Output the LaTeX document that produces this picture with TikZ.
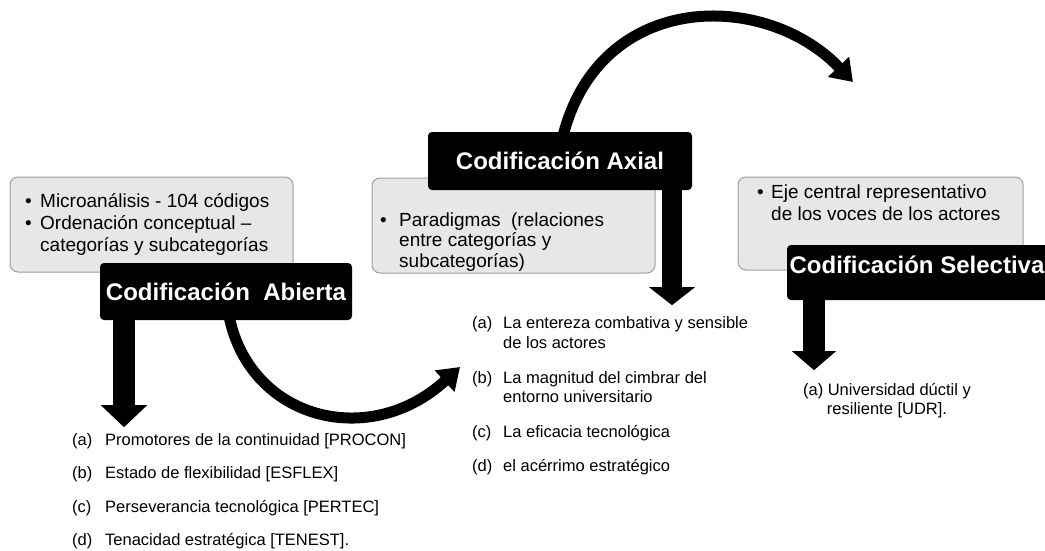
\documentclass[tikz,border=0pt]{standalone}
\usepackage{fontspec}
\setmainfont{Liberation Sans}
\usetikzlibrary{arrows.meta}

\definecolor{boxfill}{RGB}{231,231,231}
\definecolor{boxline}{RGB}{150,160,172}

\begin{document}
\begin{tikzpicture}[x=1pt,y=-1pt,
  notebox/.style={draw=boxline, line width=1pt, fill=boxfill, rounded corners=8pt, inner sep=0pt},
  titlebox/.style={fill=black, rounded corners=4pt, inner sep=0pt},
  titletext/.style={text=white, font=\fontsize{24}{28}\selectfont\bfseries, inner sep=0pt},
  boxtext/.style={font=\fontsize{19}{22}\selectfont, anchor=base west, inner sep=0pt},
  listtext/.style={font=\fontsize{16.5}{20}\selectfont, anchor=base west, inner sep=0pt},
  centertext/.style={font=\fontsize{16.5}{20}\selectfont, anchor=base, inner sep=0pt},
  blockarrow/.style={line width=22pt},
  bentarrow/.style={line width=11pt, -{Triangle[width=28pt,length=21pt]}}
]
\useasboundingbox (0,0) rectangle (1045,551);

% grey note boxes
\node[notebox, minimum width=283pt, minimum height=95pt] (note1) at (151.5,224.5) {};
\node[notebox, minimum width=283pt, minimum height=95pt] (note2) at (513.5,225.5) {};
\node[notebox, minimum width=285pt, minimum height=93pt] (note3) at (880.5,223.5) {};

% bullet texts inside the note boxes
\node[boxtext] (b1a) at (25,207) {\textbullet};
\node[boxtext] (t1a) at (40,207) {Microanálisis - 104 códigos};
\node[boxtext] (b1b) at (25,229) {\textbullet};
\node[boxtext] (t1b) at (40,229) {Ordenación conceptual –};
\node[boxtext] (t1c) at (40,251) {categorías y subcategorías};

\node[boxtext] (b2a) at (380,226) {\textbullet};
\node[boxtext] (t2a) at (399,226) {Paradigmas\ \ (relaciones};
\node[boxtext] (t2b) at (399,246.5) {entre categorías y};
\node[boxtext] (t2c) at (399,267) {subcategorías)};

\node[boxtext] (b3a) at (757,198) {\textbullet};
\node[boxtext] (t3a) at (771,198) {Eje central representativo};
\node[boxtext] (t3b) at (771,220) {de los voces de los actores};

% curved arrows between the stages
\draw[bentarrow] (229,316) .. controls (250,420) and (370,450) .. (460,367);
\draw[bentarrow] (563,136) .. controls (600,-10) and (765,-10) .. (853,82);

% stage titles
\node[titlebox, minimum width=252pt, minimum height=57pt] (abierta) at (226,291.5) {};
\node[titletext] (abiertaT) at (226,291.5) {Codificación\ \ Abierta};
\node[titlebox, minimum width=264pt, minimum height=58pt] (axial) at (560,161) {};
\node[titletext] (axialT) at (560,161) {Codificación Axial};
\node[titlebox, minimum width=264pt, minimum height=55pt] (selectiva) at (919,272.5) {};
\node[titletext] (selectivaT) at (917,264.5) {Codificación Selectiva};

% block arrows down to the result lists
\draw[blockarrow, -{Triangle[width=45pt,length=22pt]}] ([xshift=-102pt]abierta.south) -- ++(0,107);
\draw[blockarrow, line width=20pt, -{Triangle[width=45pt,length=18pt]}] ([xshift=112pt]axial.south) -- ++(0,115);
\draw[blockarrow, -{Triangle[width=43pt,length=19pt]}] ([xshift=-105pt]selectiva.south) -- ++(0,70);

% open coding results
\node[listtext] (l1a) at (72,445) {(a)};
\node[listtext] (l1aT) at (105,445) {Promotores de la continuidad [PROCON]};
\node[listtext] (l1b) at (72,478.5) {(b)};
\node[listtext] (l1bT) at (105,478.5) {Estado de flexibilidad [ESFLEX]};
\node[listtext] (l1c) at (72,512) {(c)};
\node[listtext] (l1cT) at (105,512) {Perseverancia tecnológica [PERTEC]};
\node[listtext] (l1d) at (72,545.5) {(d)};
\node[listtext] (l1dT) at (105,545.5) {Tenacidad estratégica [TENEST].};

% axial coding results
\node[listtext] (l2a) at (472,328) {(a)};
\node[listtext] (l2aT) at (503,328) {La entereza combativa y sensible};
\node[listtext] (l2aU) at (503,348) {de los actores};
\node[listtext] (l2b) at (472,383) {(b)};
\node[listtext] (l2bT) at (503,383) {La magnitud del cimbrar del};
\node[listtext] (l2bU) at (503,402.5) {entorno universitario};
\node[listtext] (l2c) at (472,437) {(c)};
\node[listtext] (l2cT) at (503,437) {La eficacia tecnológica};
\node[listtext] (l2d) at (472,471) {(d)};
\node[listtext] (l2dT) at (503,471) {el acérrimo estratégico};

% selective coding result
\node[centertext] (l3a) at (887,395) {(a) Universidad dúctil y};
\node[centertext] (l3b) at (887,414) {resiliente [UDR].};
\end{tikzpicture}
\end{document}
